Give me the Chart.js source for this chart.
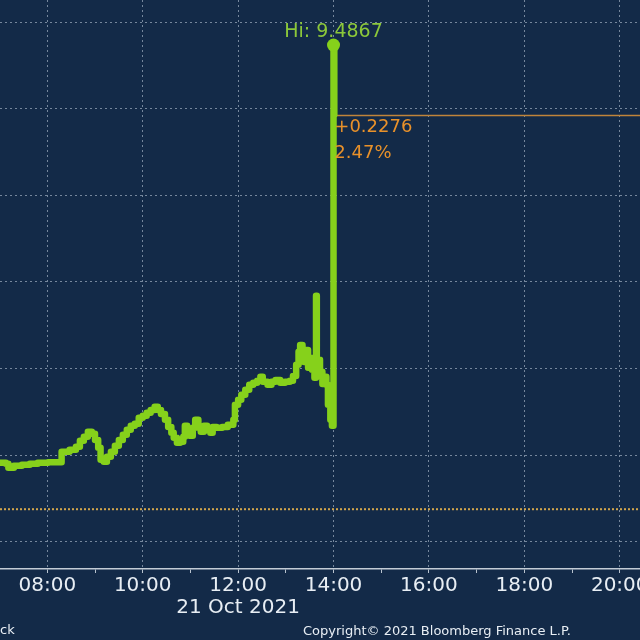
<!DOCTYPE html>
<html><head><meta charset="utf-8">
<style>html,body{margin:0;padding:0;background:#132a48;overflow:hidden}canvas{display:block}</style>
<script src="https://cdn.jsdelivr.net/npm/chart.js@4/dist/chart.umd.min.js"></script>
</head><body>
<canvas id="c" width="640" height="640"></canvas>
<script>
// ---- data (intraday, 21 Oct 2021) ----
const times = ['07:00','07:08','07:11','07:18','07:28','07:38','07:48','08:01','08:16','08:18','08:28','08:36','08:41','08:46','08:51','08:56','09:00','09:04','09:07','09:11','09:15','09:20','09:25','09:30','09:35','09:40','09:45','09:50','09:55','10:00','10:05','10:10','10:15','10:19','10:23','10:28','10:32','10:36','10:39','10:43','10:47','10:51','10:53','10:56','10:59','11:03','11:06','11:10','11:13','11:17','11:21','11:25','11:28','11:33','11:40','11:47','11:54','11:56','12:00','12:04','12:09','12:14','12:19','12:24','12:28','12:31','12:37','12:42','12:47','12:53','12:59','13:05','13:09','13:13','13:16','13:18','13:21','13:23','13:26','13:28','13:31','13:33','13:36','13:38','13:39','13:43','13:46','13:48','13:51','13:53','13:56','13:58','14:00','14:01'];
const prices = [9.2457,9.2451,9.2428,9.2440,9.2445,9.2451,9.2457,9.2460,9.2460,9.2520,9.2532,9.2549,9.2584,9.2607,9.2636,9.2624,9.2589,9.2543,9.2474,9.2463,9.2491,9.2520,9.2555,9.2589,9.2618,9.2647,9.2670,9.2682,9.2716,9.2728,9.2745,9.2762,9.2780,9.2762,9.2739,9.2705,9.2664,9.2630,9.2601,9.2572,9.2578,9.2607,9.2670,9.2636,9.2613,9.2659,9.2705,9.2659,9.2636,9.2670,9.2647,9.2630,9.2664,9.2659,9.2664,9.2676,9.2705,9.2791,9.2820,9.2849,9.2878,9.2907,9.2918,9.2930,9.2953,9.2924,9.2907,9.2924,9.2935,9.2918,9.2924,9.2930,9.2958,9.3022,9.3097,9.3137,9.3068,9.3039,9.3108,9.3005,9.3062,9.2993,9.2947,9.3420,9.3051,9.2982,9.2912,9.2953,9.2907,9.2791,9.2705,9.2670,9.4867,9.4465];
const xTickLabels = ['08:00','10:00','12:00','14:00','16:00','18:00','20:00'];
const yGridValues = [9.20,9.25,9.30,9.35,9.40,9.45,9.50];
const hiValue = 9.4867;
const prevClose = 9.2189;
const netChange = '+0.2276';
const pctChange = '2.47%';
const dateLabel = '21 Oct 2021';
const copyrightText = 'Copyright\u00a9 2021 Bloomberg Finance L.P.';
const sourceFragment = 'ck';

// ---- styling ----
const BG = '#132a48';
const GREEN = '#86d11b';
const GRID = 'rgba(185,198,215,0.6)';
const FONT = "'DejaVu Sans', sans-serif";

const toMin = t => { const [h, m] = t.split(':').map(Number); return h * 60 + m; };
const fmt = v => String(Math.floor(v / 60)).padStart(2, '0') + ':' + String(Math.round(v % 60)).padStart(2, '0');
const points = times.map((t, i) => ({ x: toMin(t), y: prices[i] }));
const hiIndex = prices.indexOf(hiValue);
const isGridY = v => yGridValues.some(g => Math.abs(g - v) < 1e-6);

const deco = {
  id: 'deco',
  beforeDraw(chart) {
    const { ctx, width, height } = chart;
    ctx.save(); ctx.fillStyle = BG; ctx.fillRect(0, 0, width, height); ctx.restore();
  },
  beforeDatasetsDraw(chart) {
    const { ctx, chartArea: a, scales: { x, y } } = chart;
    ctx.save();
    const yp = y.getPixelForValue(prevClose);
    ctx.strokeStyle = '#d3a64c'; ctx.lineWidth = 2; ctx.setLineDash([2, 2]);
    ctx.beginPath(); ctx.moveTo(a.left, yp); ctx.lineTo(a.right, yp); ctx.stroke();
    const last = points[points.length - 1];
    const lx = x.getPixelForValue(last.x), ly = y.getPixelForValue(last.y);
    ctx.setLineDash([]); ctx.strokeStyle = '#c0843a'; ctx.lineWidth = 1.5;
    ctx.beginPath(); ctx.moveTo(lx, Math.round(ly) + 0.5); ctx.lineTo(a.right, Math.round(ly) + 0.5); ctx.stroke();
    ctx.restore();
  },
  afterDraw(chart) {
    const { ctx, scales: { x, y } } = chart;
    const last = points[points.length - 1];
    const lx = x.getPixelForValue(last.x), ly = y.getPixelForValue(last.y);
    const hx = x.getPixelForValue(points[hiIndex].x), hy = y.getPixelForValue(hiValue);
    ctx.save();
    ctx.textBaseline = 'middle';
    ctx.font = '18px ' + FONT;
    ctx.fillStyle = '#e8912a'; ctx.textAlign = 'left';
    ctx.fillText(netChange, lx, ly + 13);
    ctx.fillText(pctChange, lx, ly + 39);
    ctx.font = '19px ' + FONT;
    ctx.fillStyle = '#8cc83a'; ctx.textAlign = 'center';
    ctx.fillText('Hi: ' + hiValue.toFixed(4), hx, hy - 13);
    ctx.font = '20px ' + FONT;
    ctx.fillStyle = '#e8eef4';
    ctx.fillText(dateLabel, x.getPixelForValue(toMin('12:00')), 608);
    ctx.font = '13px ' + FONT;
    ctx.textAlign = 'left';
    ctx.fillText(copyrightText, 303, 632);
    ctx.fillText(sourceFragment, 0, 631);
    ctx.restore();
  }
};

new Chart(document.getElementById('c'), {
  type: 'line',
  data: {
    datasets: [{
      data: points,
      borderColor: GREEN,
      backgroundColor: GREEN,
      borderWidth: 6.5,
      stepped: true,
      borderJoinStyle: 'round',
      borderCapStyle: 'round',
      pointRadius: c => c.dataIndex === hiIndex ? 6.5 : 0,
      pointHoverRadius: 0,
      pointBorderWidth: 0,
      pointBackgroundColor: GREEN,
      clip: false
    }]
  },
  options: {
    responsive: false,
    animation: false,
    events: [],
    layout: { padding: { left: 0, right: 0, top: 0, bottom: 41 } },
    plugins: { legend: { display: false }, tooltip: { enabled: false } },
    scales: {
      x: {
        type: 'linear',
        min: 420.5,
        max: 1225.5,
        afterBuildTicks: s => { s.ticks = []; for (let v = 480; v <= 1225; v += 60) s.ticks.push({ value: v }); },
        afterFit: s => { s.paddingLeft = 0; s.paddingRight = 0; },
        ticks: {
          autoSkip: false, maxRotation: 0, minRotation: 0, padding: 1,
          color: '#e8eef4', font: { family: FONT, size: 20 },
          callback: v => xTickLabels.includes(fmt(v)) ? fmt(v) : ''
        },
        grid: {
          color: c => (c.tick && xTickLabels.includes(fmt(c.tick.value))) ? GRID : 'rgba(0,0,0,0)',
          tickColor: '#b9c3ce', tickLength: 4, lineWidth: 1
        },
        border: { display: true, color: '#c3ccd6', width: 1.5, dash: [2, 3] }
      },
      y: {
        type: 'linear',
        position: 'right',
        min: 9.1844,
        max: 9.5127,
        afterBuildTicks: s => { s.ticks = yGridValues.map(v => ({ value: v })); },
        afterFit: s => { s.width = 0; s.paddingTop = 0; s.paddingBottom = 0; },
        ticks: { display: false },
        grid: { color: c => (c.tick && isGridY(c.tick.value)) ? GRID : 'rgba(0,0,0,0)', drawTicks: false, lineWidth: 1 },
        border: { display: false, dash: [2, 3] }
      }
    }
  },
  plugins: [deco]
});
</script>
</body></html>
